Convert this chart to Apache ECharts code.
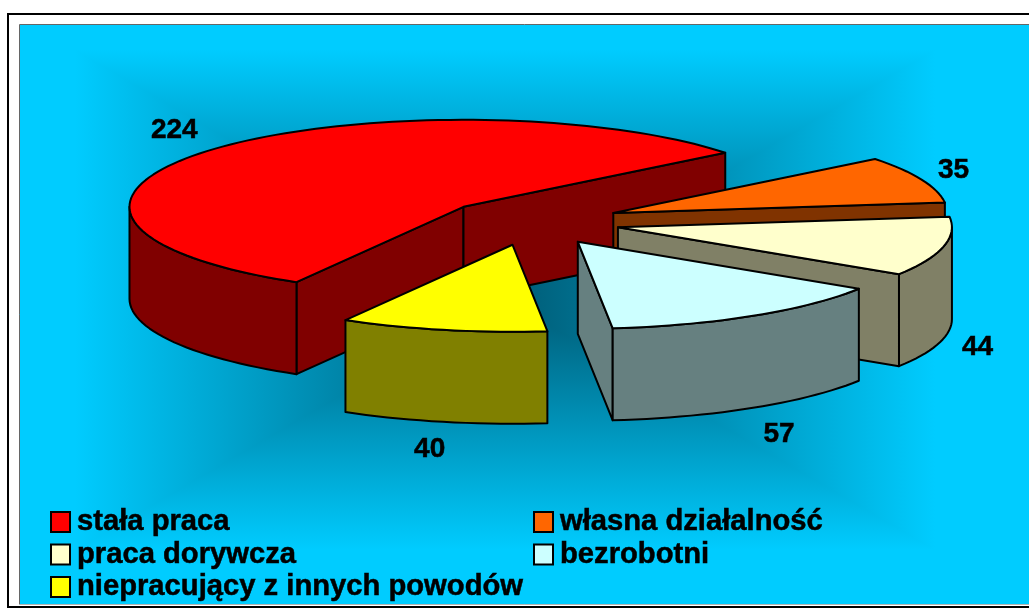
<!DOCTYPE html>
<html>
<head>
<meta charset="utf-8">
<style>html,body{margin:0;padding:0;background:#fff}#c{width:1029px;height:608px}</style>
<script src="https://cdn.jsdelivr.net/npm/echarts@6/dist/echarts.min.js"></script>
</head>
<body>
<div id="c"></div>
<script>
var categories = ['stała praca', 'własna działalność', 'praca dorywcza', 'bezrobotni', 'niepracujący z innych powodów'];
var values = [224, 35, 44, 57, 40];
var topColors = ['#ff0000', '#ff6600', '#ffffcc', '#ccffff', '#ffff00'];
var wallColors = ['#800000', '#803300', '#808066', '#668080', '#808000'];

// 3D pie projection settings
var cx = 531, cy = 222, rx = 334, ry = 87, depth = 92;
var startDeg = 240, explode = 0.267;
var labelNudge = [[-6, -3], [-5, 1], [-5, -5], [5, -4], [-5, -6]];
var FONT = '"Liberation Sans", Arial, sans-serif';
var total = values.reduce(function (a, b) { return a + b; }, 0);

// box-shaped background glow
var glow = { cx: 505, cy: 300, a: 430, b: 250, edge: '#00ccff', centre: '#005a74' };

function rad(d) { return d * Math.PI / 180; }

function renderSlice(index) {
  return function (params, api) {
    var v = api.value(0);
    var before = 0;
    for (var i = 0; i < index; i++) before += values[i];
    var hi = startDeg - before / total * 360;
    var lo = hi - v / total * 360;
    var mid = (hi + lo) / 2;
    var ox = cx + explode * rx * Math.cos(rad(mid));
    var oy = cy - explode * ry * Math.sin(rad(mid));
    function pt(a) { return [ox + rx * Math.cos(rad(a)), oy - ry * Math.sin(rad(a))]; }
    function down(p) { return [p[0], p[1] + depth]; }
    function arc(h, l) {
      var pts = [], n = Math.max(2, Math.ceil((h - l) / 2));
      for (var j = 0; j <= n; j++) pts.push(pt(h - (h - l) * j / n));
      return pts;
    }
    function poly(points, fill) {
      return { type: 'polygon', silent: true, shape: { points: points },
        style: { fill: fill, stroke: '#000', lineWidth: 2, lineJoin: 'round' } };
    }
    var apex = [ox, oy], a = pt(hi), b = pt(lo), wall = wallColors[index], children = [];
    if (Math.sin(rad(hi + 90)) < 0) children.push(poly([apex, a, down(a), down(apex)], wall));
    if (Math.sin(rad(lo - 90)) < 0) children.push(poly([apex, b, down(b), down(apex)], wall));
    [-1, 0].forEach(function (k) {
      var l2 = Math.max(lo, 180 + 360 * k), h2 = Math.min(hi, 360 + 360 * k);
      if (h2 > l2) {
        var rim = arc(h2, l2);
        children.push(poly(rim.concat(rim.slice().reverse().map(down)), wall));
      }
    });
    children.push(poly([apex].concat(arc(hi, lo)), topColors[index]));
    var s = Math.sin(rad(mid));
    children.push({ type: 'text', silent: true, style: {
      text: String(v),
      x: ox + 1.12 * rx * Math.cos(rad(mid)) + labelNudge[index][0],
      y: oy - 1.3 * ry * s + (s < 0 ? depth + 8 : 0) + labelNudge[index][1],
      fill: '#000', stroke: '#000', lineWidth: 0.5, align: 'center', verticalAlign: 'middle',
      font: 'bold 28px ' + FONT
    } });
    return { type: 'group', children: children };
  };
}

function glowFill(x, y, x2, y2) {
  return { type: 'linear', global: true, x: x, y: y, x2: x2, y2: y2, colorStops: [
    { offset: 0, color: glow.edge }, { offset: 0.5, color: glow.centre }, { offset: 1, color: glow.edge }
  ] };
}
var gL = glow.cx - glow.a, gR = glow.cx + glow.a, gT = glow.cy - glow.b, gB = glow.cy + glow.b;

var legendBase = {
  orient: 'vertical', icon: 'rect', itemWidth: 19, itemHeight: 20, itemGap: 0.5, padding: 0,
  selectedMode: false, top: 506,
  textStyle: { fontFamily: FONT, fontWeight: 'bold', fontSize: 29.2, color: '#000', lineHeight: 32,
    textBorderColor: '#000', textBorderWidth: 0.5, padding: [0, 0, 0, 2] },
  itemStyle: { borderColor: '#000', borderWidth: 2 }
};

var option = {
  animation: false,
  backgroundColor: '#ffffff',
  graphic: [
    { type: 'rect', z: 0, silent: true, shape: { x: 8, y: 14, width: 1040, height: 593 },
      style: { fill: '#fff', stroke: '#000', lineWidth: 2 } },
    { type: 'rect', z: 1, silent: true, shape: { x: 19, y: 25, width: 1020, height: 580 },
      style: { fill: glow.edge } },
    { type: 'rect', z: 1, silent: true, shape: { x: gL, y: gT, width: gR - gL, height: gB - gT },
      style: { fill: glowFill(0, gT, 0, gB) } },
    { type: 'polygon', z: 1, silent: true, shape: { points: [[gL, gT], [glow.cx, glow.cy], [gL, gB]] },
      style: { fill: glowFill(gL, 0, gR, 0) } },
    { type: 'polygon', z: 1, silent: true, shape: { points: [[gR, gT], [glow.cx, glow.cy], [gR, gB]] },
      style: { fill: glowFill(gL, 0, gR, 0) } },
    { type: 'rect', z: 1, silent: true, shape: { x: 19.5, y: 24.5, width: 1040, height: 580 },
      style: { fill: 'none', stroke: '#666', lineWidth: 1 } },
    { type: 'line', z: 1, silent: true, shape: { x1: 19, y1: 605, x2: 1029, y2: 605 },
      style: { stroke: '#fff', lineWidth: 1 } }
  ],
  legend: [
    Object.assign({}, legendBase, { left: 50, data: [categories[0], categories[2], categories[4]] }),
    Object.assign({}, legendBase, { left: 533, data: [categories[1], categories[3]] })
  ],
  series: categories.map(function (name, i) {
    return {
      type: 'custom', name: name, coordinateSystem: 'none', z: 2 + i,
      itemStyle: { color: topColors[i] },
      data: [[values[i]]],
      renderItem: renderSlice(i)
    };
  })
};
var chart = echarts.init(document.getElementById('c'), null, { renderer: 'canvas' });
chart.setOption(option);
</script>
</body>
</html>
